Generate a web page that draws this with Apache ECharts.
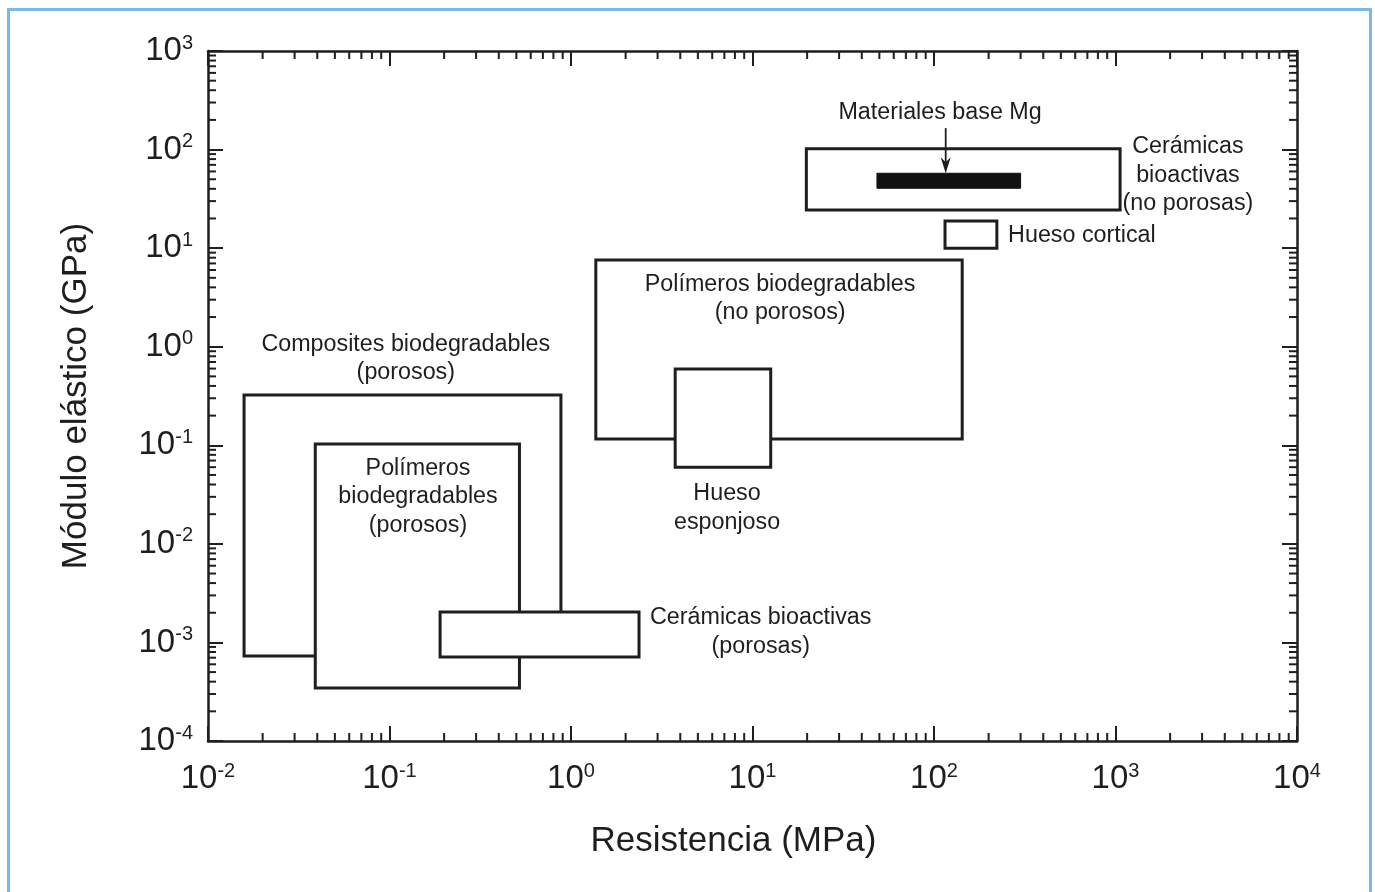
<!DOCTYPE html>
<html>
<head>
<meta charset="utf-8">
<script src="https://cdn.jsdelivr.net/npm/echarts@6/dist/echarts.min.js"></script>
<style>
html,body{margin:0;padding:0;background:#fff;}
#chart{width:1375px;height:892px;}
</style>
</head>
<body>
<div id="chart"></div>
<script>
// ---- data ----
const xMin = 0.01, xMax = 10000;
const yMin = 0.0001, yMax = 1000;

const boxNames = [
  'Composites biodegradables (porosos)',
  'Polímeros biodegradables (porosos)',
  'Cerámicas bioactivas (porosas)',
  'Polímeros biodegradables (no porosos)',
  'Hueso esponjoso',
  'Cerámicas bioactivas (no porosas)',
  'Hueso cortical'
];
const boxXLow  = [0.0158, 0.039, 0.19, 1.37, 3.75, 19.8, 115];
const boxXHigh = [0.88,   0.52,  2.37, 143,  12.6, 1060, 222];
const boxYLow  = [7.3e-4, 3.45e-4, 7.1e-4, 0.116, 0.06, 24.4, 10];
const boxYHigh = [0.324,  0.103,  2.04e-3, 7.6,  0.594, 102, 18.8];

const mgName = 'Materiales base Mg';
const mgXLow = [48.5], mgXHigh = [300], mgYLow = [40.5], mgYHigh = [57.5];

const arrowFrom = [116, 165];
const arrowTo = [116, 57.5];

const labelTexts = [
  'Materiales base Mg',
  'Cerámicas\nbioactivas\n(no porosas)',
  'Hueso cortical',
  'Polímeros biodegradables\n(no porosos)',
  'Composites biodegradables\n(porosos)',
  'Polímeros\nbiodegradables\n(porosos)',
  'Hueso\nesponjoso',
  'Cerámicas bioactivas\n(porosas)'
];
const labelX = [108, 2507, 256, 14.2, 0.123, 0.1436, 7.24, 11.1];
const labelY = [240, 55, 13.3, 3.08, 0.759, 0.0299, 0.0231, 1.28e-3];
const labelAlign = ['center', 'center', 'left', 'center', 'center', 'center', 'center', 'center'];

const xDecades = [-2, -1, 0, 1, 2, 3];
const yDecades = [-4, -3, -2, -1, 0, 1, 2];
const minorMult = [2, 3, 4, 5, 6, 7, 8, 9];

// ---- build ----
const FONT = '"Liberation Sans", Arial, Helvetica, sans-serif';
const INK = '#1e1e1e';

const xMinor = [];
xDecades.forEach(d => minorMult.forEach(m => xMinor.push([m * Math.pow(10, d)])));
const yMinor = [];
yDecades.forEach(d => minorMult.forEach(m => yMinor.push([m * Math.pow(10, d)])));

function supLabel(v) {
  const e = Math.round(Math.log10(v));
  return '{b|10}{s|' + e + '}';
}
const richLbl = {
  b: {fontSize: 33, fontFamily: FONT, color: INK, lineHeight: 36},
  s: {fontSize: 20, fontFamily: FONT, color: INK, lineHeight: 11, verticalAlign: 'top'}
};

const boxData = boxNames.map((n, i) => ({name: n, value: [boxXLow[i], boxYLow[i], boxXHigh[i], boxYHigh[i]]}));

function rectItem(params, api, fill) {
  const p0 = api.coord([api.value(0), api.value(3)]);
  const p1 = api.coord([api.value(2), api.value(1)]);
  return {
    type: 'rect',
    shape: {x: p0[0], y: p0[1], width: p1[0] - p0[0], height: p1[1] - p0[1]},
    style: {fill: fill, stroke: INK, lineWidth: 3, lineJoin: 'miter'}
  };
}

const option = {
  animation: false,
  backgroundColor: '#fff',
  graphic: [{
    type: 'rect', left: 6, top: 7, z: 100,
    shape: {width: 1362, height: 900},
    style: {fill: 'none', stroke: '#7cb8e6', lineWidth: 3}
  }],
  grid: {left: 208, right: 78, top: 51, bottom: 151, show: false},
  xAxis: [{
    type: 'log', logBase: 10, min: xMin, max: xMax, position: 'bottom',
    name: 'Resistencia (MPa)', nameLocation: 'middle', nameGap: 83,
    nameTextStyle: {fontSize: 35, fontFamily: FONT, color: INK, padding: [0, 38, 0, 0]},
    axisLine: {show: true, onZero: false, lineStyle: {color: INK, width: 2.5}},
    axisTick: {show: true, inside: true, length: 15, lineStyle: {color: INK, width: 2}},
    axisLabel: {show: true, margin: 20, formatter: supLabel, rich: richLbl, showMinLabel: true, showMaxLabel: true},
    splitLine: {show: false}
  }, {
    type: 'log', logBase: 10, min: xMin, max: xMax, position: 'top',
    axisLine: {show: true, onZero: false, lineStyle: {color: INK, width: 2.5}},
    axisTick: {show: true, inside: true, length: 15, lineStyle: {color: INK, width: 2}},
    axisLabel: {show: false}, splitLine: {show: false}
  }],
  yAxis: [{
    type: 'log', logBase: 10, min: yMin, max: yMax, position: 'left',
    name: 'Módulo elástico (GPa)', nameLocation: 'middle', nameGap: 114,
    nameTextStyle: {fontSize: 35, fontFamily: FONT, color: INK},
    axisLine: {show: true, onZero: false, lineStyle: {color: INK, width: 2.5}},
    axisTick: {show: true, inside: true, length: 15, lineStyle: {color: INK, width: 2}},
    axisLabel: {show: true, margin: 15, formatter: supLabel, rich: richLbl, showMinLabel: true, showMaxLabel: true},
    splitLine: {show: false}
  }, {
    type: 'log', logBase: 10, min: yMin, max: yMax, position: 'right',
    axisLine: {show: true, onZero: false, lineStyle: {color: INK, width: 2.5}},
    axisTick: {show: true, inside: true, length: 15, lineStyle: {color: INK, width: 2}},
    axisLabel: {show: false}, splitLine: {show: false}
  }],
  series: [
    {
      name: 'x minor ticks', type: 'custom', xAxisIndex: 0, yAxisIndex: 0, silent: true,
      data: xMinor,
      renderItem: function (params, api) {
        const b = api.coord([api.value(0), yMin]);
        const t = api.coord([api.value(0), yMax]);
        return {type: 'group', children: [
          {type: 'line', shape: {x1: b[0], y1: b[1], x2: b[0], y2: b[1] - 8}, style: {stroke: INK, lineWidth: 2}},
          {type: 'line', shape: {x1: t[0], y1: t[1], x2: t[0], y2: t[1] + 8}, style: {stroke: INK, lineWidth: 2}}
        ]};
      }
    },
    {
      name: 'y minor ticks', type: 'custom', xAxisIndex: 0, yAxisIndex: 0, silent: true,
      data: yMinor,
      renderItem: function (params, api) {
        const l = api.coord([xMin, api.value(0)]);
        const r = api.coord([xMax, api.value(0)]);
        return {type: 'group', children: [
          {type: 'line', shape: {x1: l[0], y1: l[1], x2: l[0] + 8, y2: l[1]}, style: {stroke: INK, lineWidth: 2}},
          {type: 'line', shape: {x1: r[0], y1: r[1], x2: r[0] - 8, y2: r[1]}, style: {stroke: INK, lineWidth: 2}}
        ]};
      },
      encode: {x: -1, y: 0}
    },
    {
      name: 'boxes', type: 'custom', xAxisIndex: 0, yAxisIndex: 0,
      data: boxData,
      encode: {x: [0, 2], y: [1, 3]},
      renderItem: function (params, api) { return rectItem(params, api, '#fff'); }
    },
    {
      name: mgName, type: 'custom', xAxisIndex: 0, yAxisIndex: 0,
      data: [[mgXLow[0], mgYLow[0], mgXHigh[0], mgYHigh[0]]],
      encode: {x: [0, 2], y: [1, 3]},
      renderItem: function (params, api) {
        const p0 = api.coord([api.value(0), api.value(3)]);
        const p1 = api.coord([api.value(2), api.value(1)]);
        return {type: 'rect', shape: {x: p0[0], y: p0[1], width: p1[0] - p0[0], height: p1[1] - p0[1]},
          style: {fill: '#111', stroke: '#111', lineWidth: 1}};
      }
    },
    {
      name: 'arrow', type: 'custom', xAxisIndex: 0, yAxisIndex: 0,
      data: [[arrowFrom[0], arrowFrom[1], arrowTo[0], arrowTo[1]]],
      encode: {x: [0, 2], y: [1, 3]},
      renderItem: function (params, api) {
        const a = api.coord([api.value(0), api.value(1)]);
        const b = api.coord([api.value(2), api.value(3)]);
        return {type: 'group', children: [
          {type: 'line', shape: {x1: a[0], y1: a[1], x2: b[0], y2: b[1] - 8}, style: {stroke: INK, lineWidth: 1.8}},
          {type: 'polygon', shape: {points: [[b[0], b[1]], [b[0] - 5, b[1] - 16], [b[0], b[1] - 11], [b[0] + 5, b[1] - 16]]},
            style: {fill: INK}}
        ]};
      }
    },
    {
      name: 'labels', type: 'custom', xAxisIndex: 0, yAxisIndex: 0, z: 10,
      data: labelTexts.map((t, i) => [labelX[i], labelY[i], i]),
      encode: {x: 0, y: 1},
      renderItem: function (params, api) {
        const p = api.coord([api.value(0), api.value(1)]);
        const i = api.value(2);
        return {type: 'text', x: p[0], y: p[1],
          style: {text: labelTexts[i], align: labelAlign[i], verticalAlign: 'middle',
            fontSize: 23.3, fontFamily: FONT, fill: INK, lineHeight: 28.5}};
      }
    }
  ]
};

const chart = echarts.init(document.getElementById('chart'), null, {renderer: 'canvas'});
chart.setOption(option);
</script>
</body>
</html>
